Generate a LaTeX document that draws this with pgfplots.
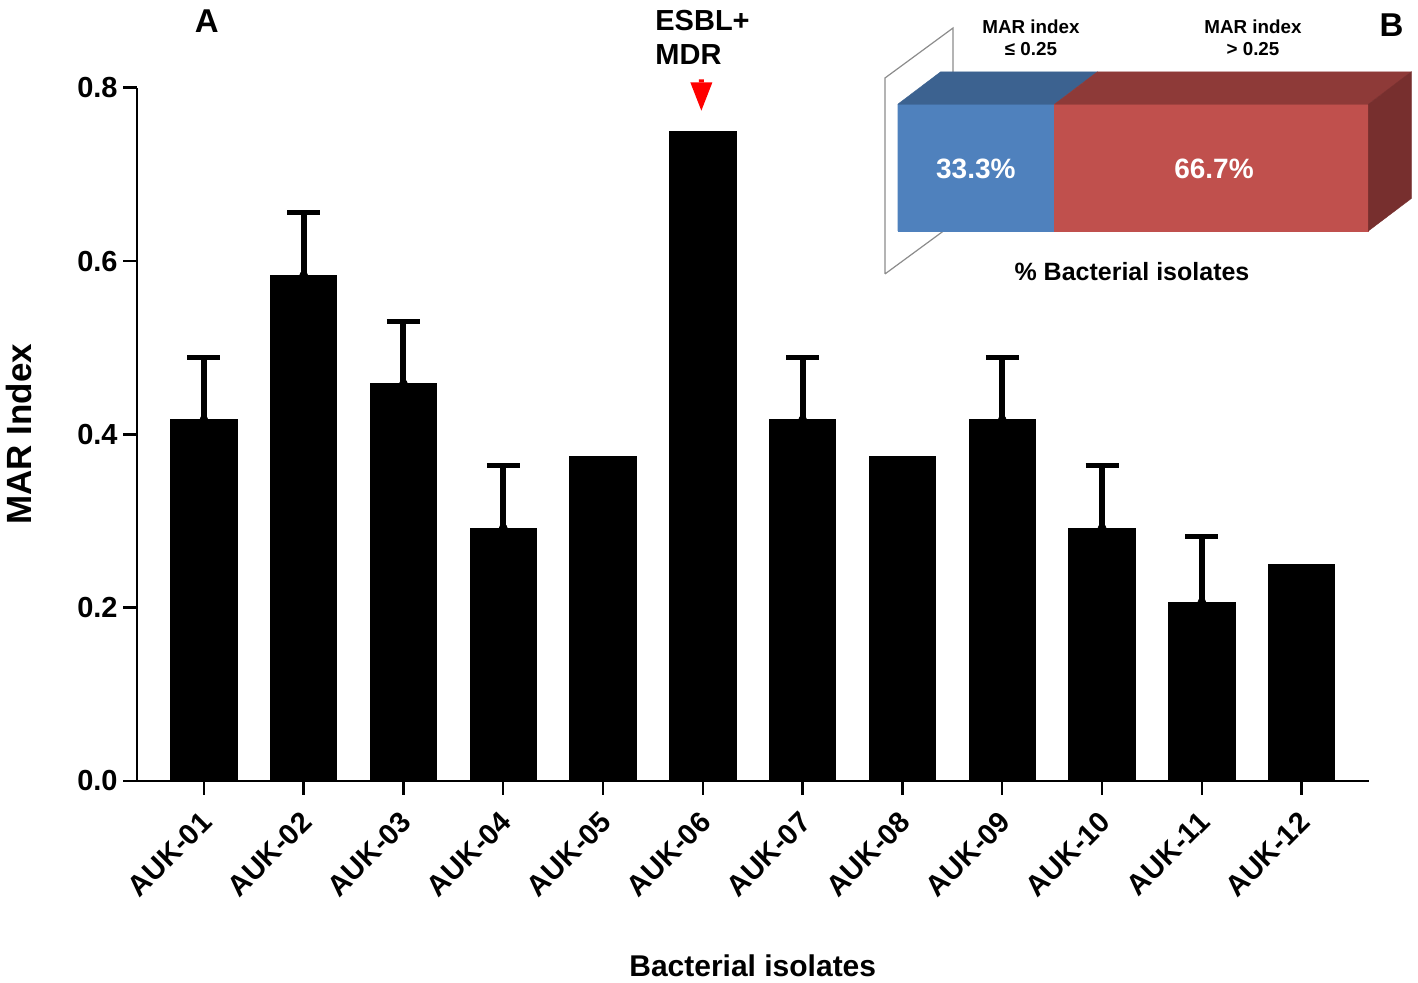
\documentclass[border=0pt]{standalone}
\usepackage{fontspec}
\setmainfont{Liberation Sans}
\usepackage{pgfplots}
\pgfplotsset{compat=1.18}
\usepackage{pgfplotstable}
\definecolor{bluefront}{HTML}{4F81BD}
\definecolor{bluetop}{HTML}{3C6290}
\definecolor{redfront}{HTML}{C0504D}
\definecolor{redtop}{HTML}{8E3A38}
\definecolor{redside}{HTML}{772F2E}
\definecolor{wallgray}{HTML}{8C8C8C}
\definecolor{arrowred}{HTML}{FF0000}

\pgfplotstableread{
x y
0 0.4167
1 0.5833
2 0.4583
3 0.2917
4 0.375
5 0.75
6 0.4167
7 0.375
8 0.4167
9 0.2917
10 0.206
11 0.25
}\bardata

\pgfplotstableread{
x y e
0 0.4167 0.0722
1 0.5833 0.0730
2 0.4583 0.0722
3 0.2917 0.0722
6 0.4167 0.0722
8 0.4167 0.0722
9 0.2917 0.0722
10 0.206 0.0760
}\errdata

\begin{document}
\begin{tikzpicture}
\path[use as bounding box] (0,0) rectangle (709bp,491.5bp);
\begin{axis}[
  at={(68.5bp,101bp)}, anchor=south west,
  scale only axis, width=615.75bp, height=346.65bp,
  xmin=-0.67, xmax=11.67, ymin=0, ymax=0.8,
  axis x line*=bottom, axis y line*=left,
  axis line style={-, line width=1.2bp, black},
  ytick={0,0.2,0.4,0.6,0.8},
  yticklabels={0.0,0.2,0.4,0.6,0.8},
  xtick={0,1,2,3,4,5,6,7,8,9,10,11},
  xticklabels={AUK-01,AUK-02,AUK-03,AUK-04,AUK-05,AUK-06,AUK-07,AUK-08,AUK-09,AUK-10,AUK-11,AUK-12},
  tick align=outside, major tick length=7bp,
  tick style={line width=1.2bp, black},
  yticklabel style={font=\fontsize{14.5bp}{17bp}\selectfont\bfseries, inner sep=0pt, xshift=-2.5bp},
  xticklabel style={font=\fontsize{14.5bp}{17bp}\selectfont\bfseries, xshift=1.5bp, yshift=-11bp, rotate=45, anchor=east, inner sep=0pt},
  xlabel={Bacterial isolates}, ylabel={MAR Index},
  every axis x label/.style={at={(rel axis cs:0.5,0)}, anchor=base, yshift=-97.5bp, font=\fontsize{15bp}{18bp}\selectfont\bfseries},
  every axis y label/.style={at={(rel axis cs:-0.0855,0.5)}, rotate=90, anchor=base, font=\fontsize{17.5bp}{20bp}\selectfont\bfseries},
  clip=false,
]
\addplot[ybar, bar shift=0pt, bar width=0.665, fill=black, draw=black] table[x=x,y=y]{\bardata};
\addplot[only marks, mark=none, black,
  error bars/.cd, y dir=plus, y explicit,
  error bar style={line width=3bp, solid, black},
  error mark options={rotate=90, mark size=8.25bp, line width=2.6bp, black}]
  table[x=x,y=y,y error=e]{\errdata};
% red arrow pointing to AUK-06
\addplot[fill=arrowred, draw=none] coordinates {(4.875,0.806) (5.095,0.806) (4.985,0.7735) (4.875,0.806)};
\addplot[fill=arrowred, draw=none] coordinates {(4.96,0.806) (5.01,0.806) (5.01,0.8095) (4.96,0.8095) (4.96,0.806)};
\end{axis}

\begin{axis}[
  at={(448.85bp,376bp)}, anchor=south west,
  scale only axis, width=235.3bp, height=63.35bp,
  xmin=0, xmax=100, ymin=0, ymax=1,
  hide axis, clip=false,
]
\addplot[draw=wallgray, line width=0.6bp, fill=white] coordinates {(-2.7,-0.339) (-2.7,1.2076) (11.75,1.602) (11.75,0.055) (-2.7,-0.339)};
\addplot[fill=bluefront, draw=bluefront, line width=0.2bp] coordinates {(0,0) (33.3,0) (33.3,1) (0,1) (0,0)};
\addplot[fill=bluetop, draw=bluetop, line width=0.2bp] coordinates {(0,1) (33.3,1) (42.44,1.2565) (9.14,1.2565) (0,1)};
\addplot[fill=redfront, draw=redfront, line width=0.2bp] coordinates {(33.3,0) (100,0) (100,1) (33.3,1) (33.3,0)};
\addplot[fill=redtop, draw=redtop, line width=0.2bp] coordinates {(33.3,1) (100,1) (109.14,1.2565) (42.44,1.2565) (33.3,1)};
\addplot[fill=redside, draw=redside, line width=0.2bp] coordinates {(100,0) (109.14,0.2565) (109.14,1.2565) (100,1) (100,0)};
\node[white, font=\fontsize{14bp}{17bp}\selectfont\bfseries, anchor=center] at (axis cs:16.6,0.49) {33.3\%};
\node[white, font=\fontsize{14bp}{17bp}\selectfont\bfseries, anchor=center] at (axis cs:67.2,0.49) {66.7\%};
\end{axis}

% inset labels
\node[anchor=base, font=\fontsize{9.4bp}{11bp}\selectfont\bfseries] at (515.5bp,474.5bp) {MAR index};
\node[anchor=base, font=\fontsize{9.4bp}{11bp}\selectfont\bfseries] at (515.5bp,463.5bp) {≤ 0.25};
\node[anchor=base, font=\fontsize{9.4bp}{11bp}\selectfont\bfseries] at (626.5bp,474.5bp) {MAR index};
\node[anchor=base, font=\fontsize{9.4bp}{11bp}\selectfont\bfseries] at (626.5bp,463.5bp) {> 0.25};
\node[anchor=base, font=\fontsize{12.5bp}{15bp}\selectfont\bfseries] at (566bp,351bp) {\% Bacterial isolates};
% panel letters
\node[anchor=base, font=\fontsize{16.5bp}{19bp}\selectfont\bfseries] at (103.35bp,475.4bp) {A};
\node[anchor=base, font=\fontsize{16.5bp}{19bp}\selectfont\bfseries] at (695.75bp,473bp) {B};
% annotation
\node[anchor=base west, inner sep=0pt, font=\fontsize{14.5bp}{17bp}\selectfont\bfseries] at (327.5bp,476.15bp) {ESBL+};
\node[anchor=base west, inner sep=0pt, font=\fontsize{14.5bp}{17bp}\selectfont\bfseries] at (327.5bp,459bp) {MDR};
\end{tikzpicture}
\end{document}
